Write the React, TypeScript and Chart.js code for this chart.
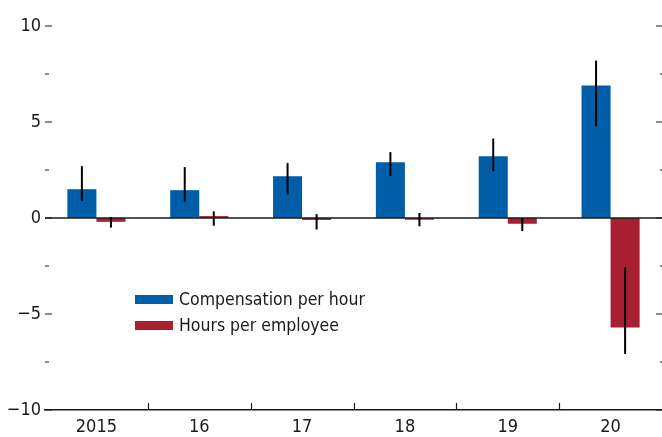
import React, { useEffect, useRef } from "react";
import { Chart, registerables } from "chart.js";

Chart.register(...registerables);

const categories = ["2015", "16", "17", "18", "19", "20"];
const compensation = [1.5, 1.45, 2.18, 2.91, 3.22, 6.9];
const compLow = [0.88, 0.85, 1.23, 2.18, 2.44, 4.78];
const compHigh = [2.7, 2.65, 2.87, 3.43, 4.14, 8.2];
const hours = [-0.2, 0.1, -0.1, -0.09, -0.3, -5.7];
const hoursLow = [-0.5, -0.4, -0.6, -0.43, -0.68, -7.08];
const hoursHigh = [0.05, 0.35, 0.2, 0.26, 0.0, -2.58];
const seriesNames = ["Compensation per hour", "Hours per employee"];

const BLUE = "#005EA8";
const RED = "#A71F30";
const INK = "#1a1a1a";
const FONT = "'Liberation Sans Narrow', 'Arial Narrow', 'DejaVu Sans Condensed', sans-serif";

const decorPlugin = {
  id: "decor",
  afterDatasetsDraw(chart: any) {
    const { ctx, chartArea, scales } = chart;
    const x = scales.x;
    const y = scales.y;
    ctx.save();
    // zero line
    const y0 = y.getPixelForValue(0);
    ctx.strokeStyle = INK;
    ctx.lineWidth = 1.3;
    ctx.beginPath();
    ctx.moveTo(chartArea.left, y0);
    ctx.lineTo(chartArea.right, y0);
    ctx.stroke();

    // error bars
    const lows = [compLow, hoursLow];
    const highs = [compHigh, hoursHigh];
    ctx.lineWidth = 2;
    ctx.strokeStyle = "#000";
    [0, 1].forEach((d) => {
      const meta = chart.getDatasetMeta(d);
      meta.data.forEach((bar: any, i: number) => {
        const yl = y.getPixelForValue(lows[d][i]);
        const yh = y.getPixelForValue(highs[d][i]);
        ctx.beginPath();
        ctx.moveTo(bar.x, yl);
        ctx.lineTo(bar.x, yh);
        ctx.stroke();
      });
    });

    // y ticks left and right (inward)
    ctx.lineWidth = 1.2;
    ctx.strokeStyle = INK;
    y.ticks.forEach((t: any) => {
      const py = y.getPixelForValue(t.value);
      const major = t.value % 5 === 0;
      ctx.beginPath();
      ctx.moveTo(chartArea.left, py);
      ctx.lineTo(chartArea.left + (major ? 7 : 4), py);
      ctx.moveTo(chartArea.right, py);
      ctx.lineTo(chartArea.right - (major ? 6 : 2), py);
      ctx.stroke();
    });

    // x ticks between categories (inward)
    for (let i = 1; i < categories.length; i++) {
      const px = Math.round((x.getPixelForTick(i - 1) + x.getPixelForTick(i)) / 2) + 0.5;
      ctx.beginPath();
      ctx.moveTo(px, chartArea.bottom);
      ctx.lineTo(px, chartArea.bottom - 7);
      ctx.stroke();
    }

    // legend
    const colors = [BLUE, RED];
    ctx.font = `17.5px ${FONT}`;
    ctx.textBaseline = "middle";
    ctx.textAlign = "left";
    seriesNames.forEach((name, i) => {
      const ly = 299.5 + i * 26;
      ctx.fillStyle = colors[i];
      ctx.fillRect(chartArea.left + 90, ly - 4.5, 38, 9);
      ctx.fillStyle = INK;
      ctx.fillText(name, chartArea.left + 134, ly + 1);
    });
    ctx.restore();
  },
};

export default function App() {
  const ref = useRef<HTMLCanvasElement | null>(null);
  useEffect(() => {
    document.body.style.margin = "0";
    const canvas = ref.current!;
    const chart = new Chart(canvas, {
      type: "bar",
      data: {
        labels: categories,
        datasets: [
          { label: seriesNames[0], data: compensation, backgroundColor: BLUE, borderWidth: 0 },
          { label: seriesNames[1], data: hours, backgroundColor: RED, borderWidth: 0 },
        ],
      },
      options: {
        responsive: false,
        animation: false,
        devicePixelRatio: 1,
        categoryPercentage: 0.565,
        barPercentage: 1,
        layout: { padding: { top: 26, right: 0, left: 0, bottom: 0 } },
        plugins: { legend: { display: false }, tooltip: { enabled: false } },
        scales: {
          x: {
            grid: { display: false, drawTicks: false },
            border: { display: true, color: INK, width: 1.5 },
            ticks: { color: INK, font: { family: FONT, size: 18 }, padding: 7, maxRotation: 0 },
            afterFit: (s: any) => { s.height = 27; },
          },
          y: {
            min: -10,
            max: 10,
            grid: { display: false, drawTicks: false },
            border: { display: false },
            ticks: {
              stepSize: 2.5,
              color: INK,
              padding: 4,
              font: { family: FONT, size: 18 },
              callback: (v: any) => {
                const n = Number(v);
                if (n % 5 !== 0) return "";
                return n < 0 ? "\u2212" + Math.abs(n) : String(n);
              },
            },
            afterFit: (s: any) => { s.width = 45; },
          },
        },
      },
      plugins: [decorPlugin],
    });
    return () => chart.destroy();
  }, []);
  return (
    <div style={{ position: "absolute", left: 0, top: 0, width: 662, height: 437 }}>
      <canvas ref={ref} width={662} height={437} style={{ display: "block" }} />
    </div>
  );
}
